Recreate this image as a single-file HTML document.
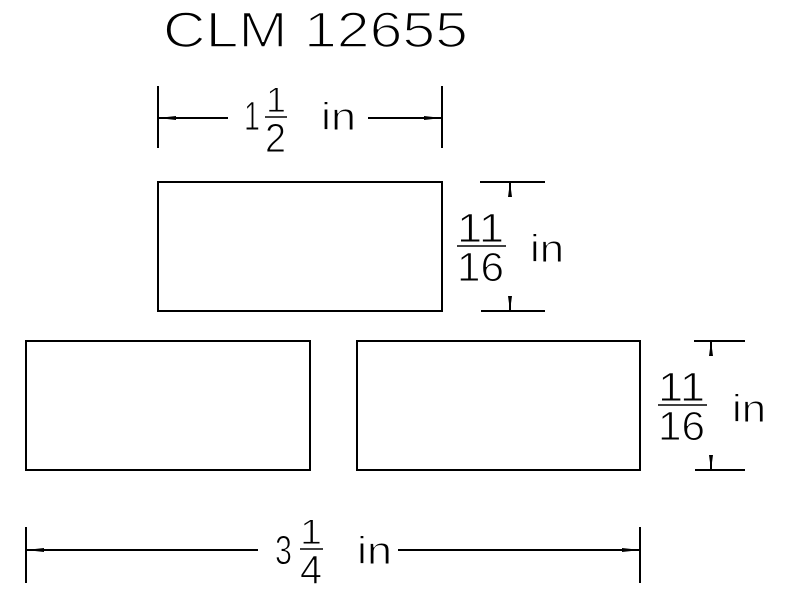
<!DOCTYPE html>
<html><head><style>
html,body{margin:0;padding:0;background:#fff;}
svg{display:block;}
text{font-family:"Liberation Sans",sans-serif;fill:#000;stroke:#fff;stroke-width:1;paint-order:normal;}
</style></head><body>
<svg width="800" height="600" viewBox="0 0 800 600" xmlns="http://www.w3.org/2000/svg">
<g stroke="#000" stroke-width="2" fill="none">
<rect x="158" y="182" width="284" height="129"/>
<rect x="26" y="341" width="284" height="129"/>
<rect x="357" y="341" width="283" height="129"/>
<line x1="158" y1="86" x2="158" y2="148"/>
<line x1="442" y1="86" x2="442" y2="148"/>
<line x1="158" y1="118" x2="228" y2="118"/>
<line x1="368" y1="118" x2="442" y2="118"/>
<line x1="265" y1="117" x2="287" y2="117" stroke-width="1.5"/>
<line x1="480" y1="182" x2="545" y2="182"/>
<line x1="481" y1="311" x2="545" y2="311"/>
<line x1="510" y1="182" x2="510" y2="197"/>
<line x1="510" y1="296" x2="510" y2="311"/>
<line x1="457" y1="246" x2="506" y2="246" stroke-width="1.5"/>
<line x1="694" y1="341" x2="745" y2="341"/>
<line x1="695" y1="470" x2="745" y2="470"/>
<line x1="711" y1="341" x2="711" y2="356"/>
<line x1="711" y1="455" x2="711" y2="470"/>
<line x1="658" y1="405" x2="707" y2="405" stroke-width="1.5"/>
<line x1="26" y1="527" x2="26" y2="583"/>
<line x1="640" y1="527" x2="640" y2="583"/>
<line x1="26" y1="550" x2="258" y2="550"/>
<line x1="398" y1="550" x2="640" y2="550"/>
<line x1="300" y1="549" x2="323" y2="549" stroke-width="1.5"/>
</g>
<g fill="#000">
<polygon points="158,118 176,116 176,120"/>
<polygon points="442,118 424,116 424,120"/>
<polygon points="510,182 508,197 512,197"/>
<polygon points="510,311 508,296 512,296"/>
<polygon points="711,341 709,356 713,356"/>
<polygon points="711,470 709,455 713,455"/>
<polygon points="26,550 44,548 44,552"/>
<polygon points="640,550 622,548 622,552"/>
</g>
<text x="163" y="47" font-size="50" style="stroke-width:1.6" textLength="305" lengthAdjust="spacingAndGlyphs">CLM 12655</text>
<text x="244" y="130" font-size="41" textLength="16" lengthAdjust="spacingAndGlyphs">1</text>
<text x="266" y="112" font-size="35" textLength="20" lengthAdjust="spacingAndGlyphs">1</text>
<text x="265" y="152" font-size="41" textLength="21" lengthAdjust="spacingAndGlyphs">2</text>
<text x="321" y="130" font-size="39" textLength="35" lengthAdjust="spacingAndGlyphs">in</text>
<text x="457" y="242" font-size="41" textLength="47" lengthAdjust="spacingAndGlyphs">11</text>
<text x="457" y="281" font-size="41" textLength="47" lengthAdjust="spacingAndGlyphs">16</text>
<text x="530" y="262" font-size="39" textLength="34" lengthAdjust="spacingAndGlyphs">in</text>
<text x="658" y="401" font-size="41" textLength="47" lengthAdjust="spacingAndGlyphs">11</text>
<text x="658" y="440" font-size="41" textLength="47" lengthAdjust="spacingAndGlyphs">16</text>
<text x="732" y="422" font-size="39" textLength="34" lengthAdjust="spacingAndGlyphs">in</text>
<text x="275" y="564" font-size="41" textLength="17" lengthAdjust="spacingAndGlyphs">3</text>
<text x="300" y="544" font-size="35" textLength="22" lengthAdjust="spacingAndGlyphs">1</text>
<text x="300" y="584" font-size="41" textLength="22" lengthAdjust="spacingAndGlyphs">4</text>
<text x="357" y="564" font-size="39" textLength="35" lengthAdjust="spacingAndGlyphs">in</text>
</svg>
</body></html>
